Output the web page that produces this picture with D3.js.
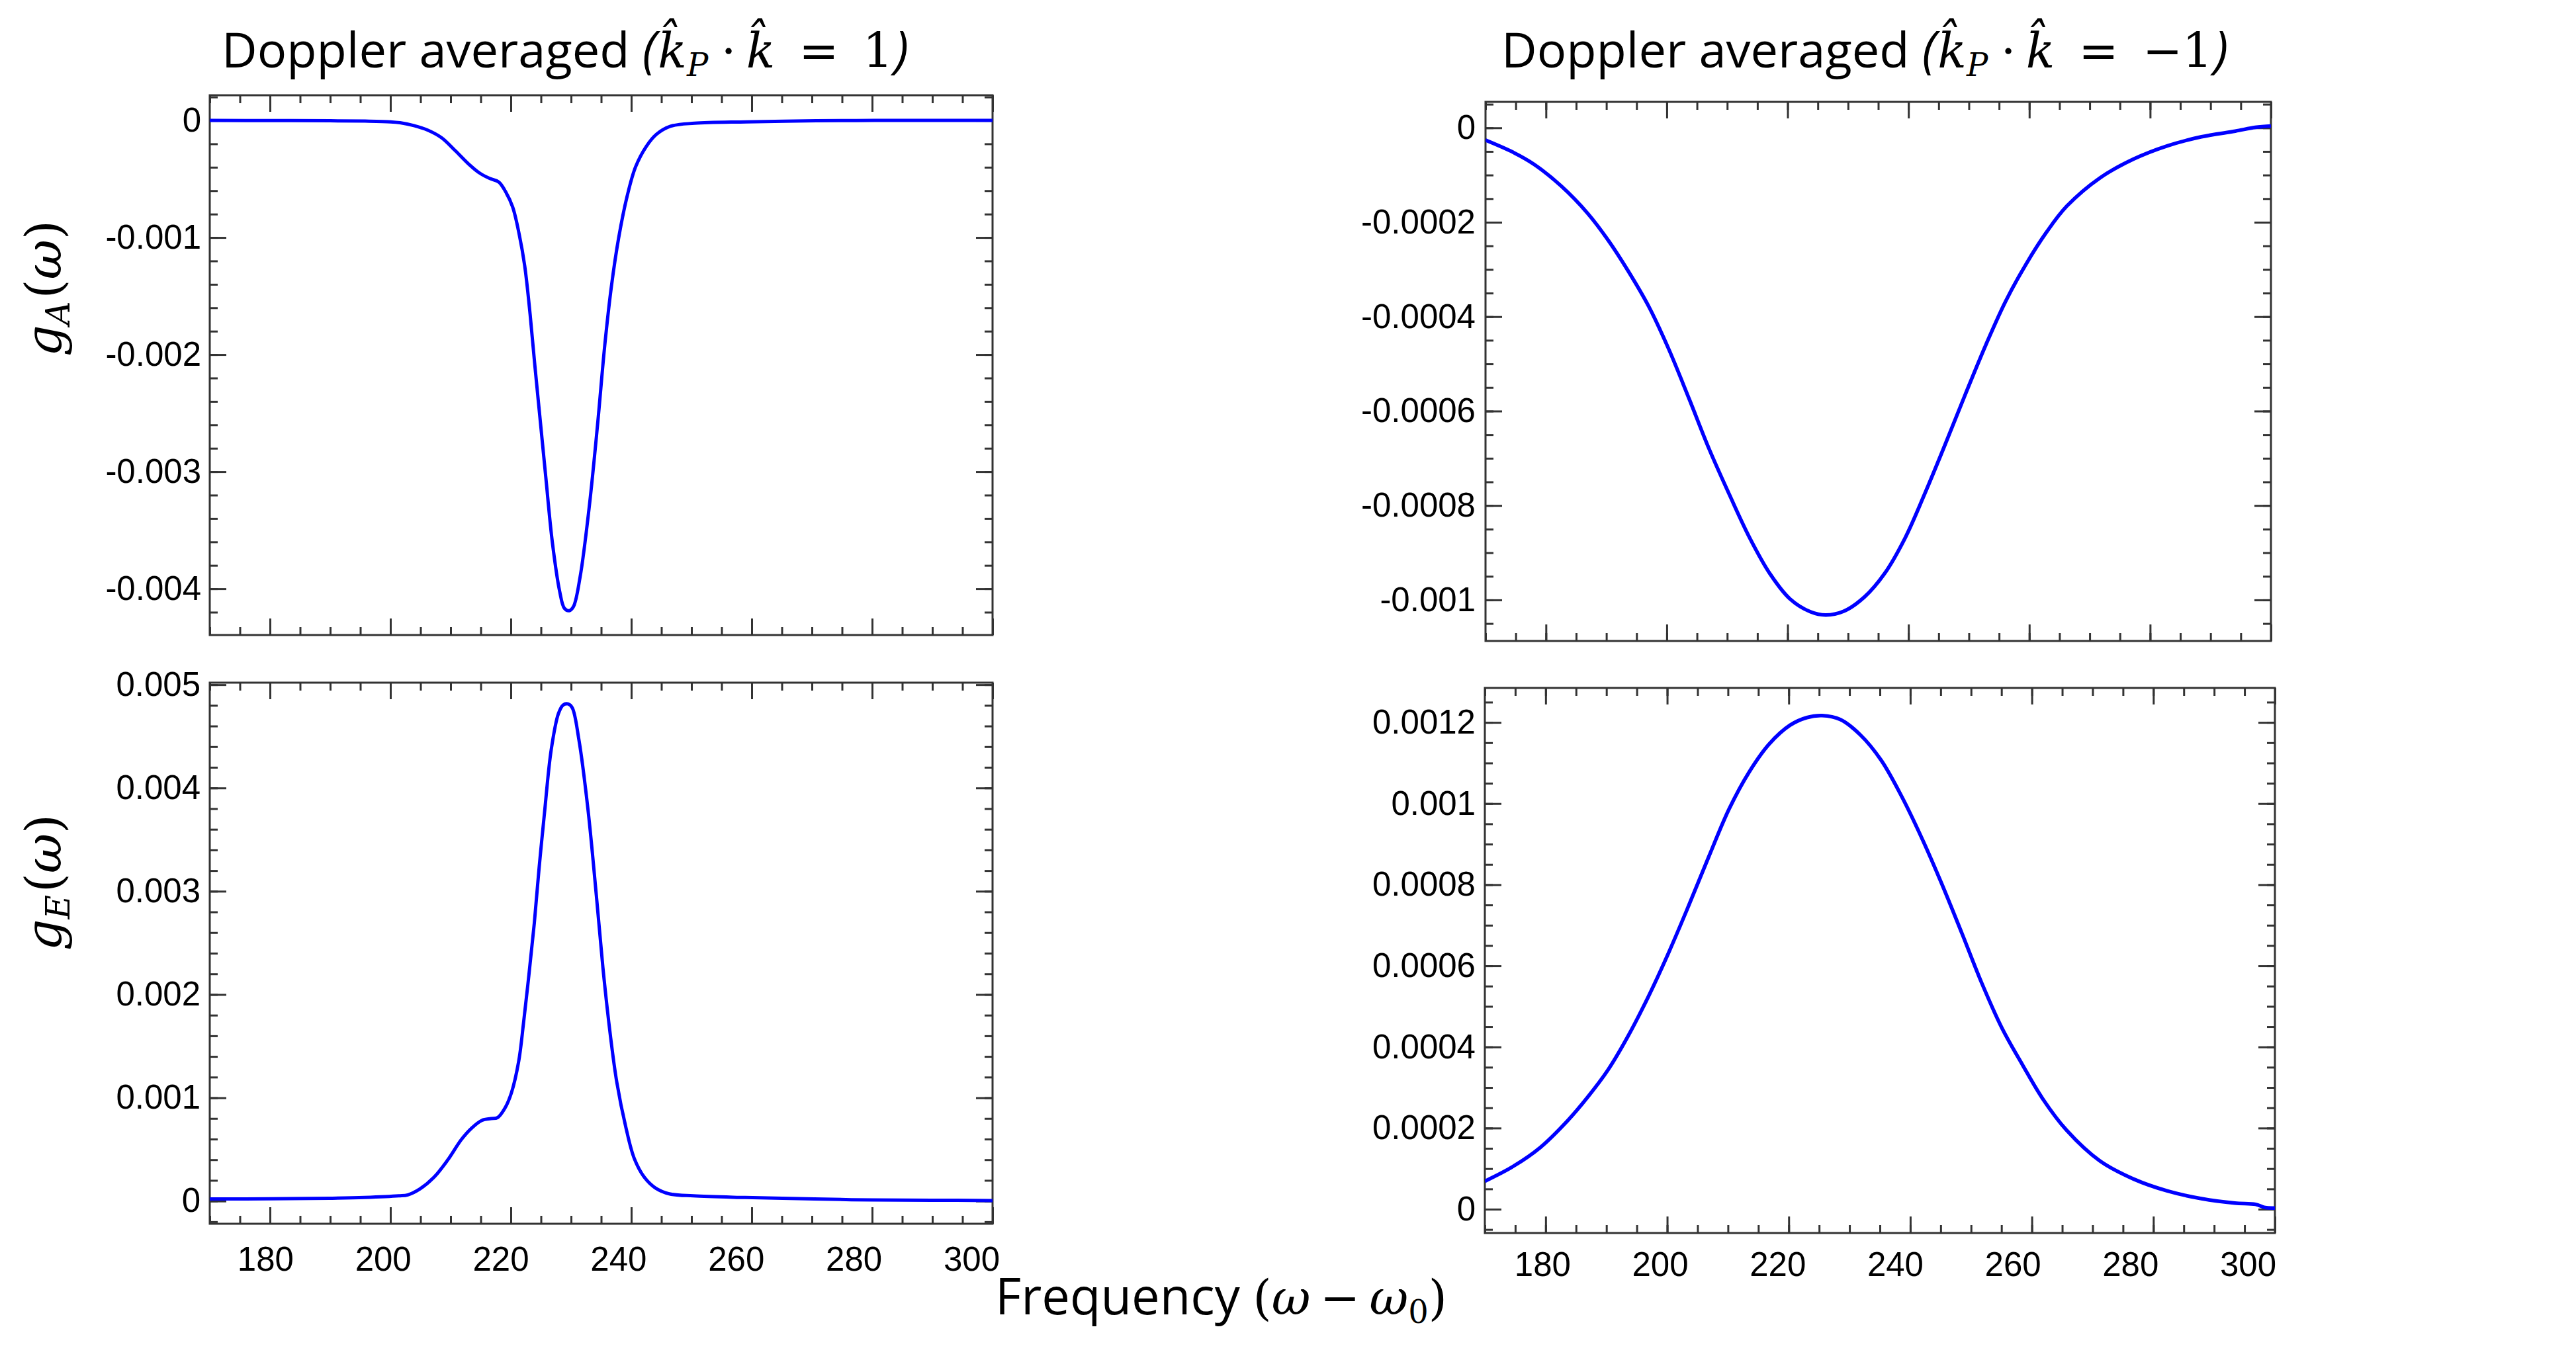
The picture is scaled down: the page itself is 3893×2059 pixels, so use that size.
<!DOCTYPE html>
<html><head><meta charset="utf-8">
<script src="https://cdn.jsdelivr.net/npm/d3@7"></script>
<style>body{margin:0;background:#fff}</style>
</head><body>
<svg id="chart" width="3893" height="2059" xmlns="http://www.w3.org/2000/svg"></svg>
<script>
// ---------------- DATA ----------------
const xTickLabels = [180, 200, 220, 240, 260, 280, 300];

// Doppler averaged, kP.k = 1 : g_A
const freqA1 = [170,180,190,195.8,200,201.6,203.9,206.2,208.5,210.8,213.1,214.8,216.5,218.0,219.1,220.3,221.4,222.3,223.2,224.0,224.9,225.8,226.9,228.1,228.9,229.7,230.4,231.5,233.0,234.4,235.6,236.7,237.9,239.3,240.7,242.5,244.2,246.5,250.5,259.2,270.7,280.4,290,300];
const gA1 = [0,-0.000001,-0.000003,-0.000006,-0.000012,-0.00002,-0.000044,-0.000083,-0.000148,-0.00026,-0.000378,-0.000449,-0.000496,-0.000526,-0.000606,-0.000739,-0.000975,-0.001241,-0.001655,-0.002098,-0.002571,-0.003044,-0.003605,-0.004019,-0.004167,-0.004187,-0.004152,-0.0039,-0.00331,-0.0026,-0.00192,-0.001418,-0.001005,-0.00065,-0.000399,-0.000222,-0.000118,-0.00005,-0.000024,-0.000012,-0.000003,0,0,0];

// Doppler averaged, kP.k = 1 : g_E
const freqE1 = [170,180,189.9,195.7,201.4,202.9,204.9,207.2,209.5,211.8,213.5,215.2,216.7,217.8,219.0,220.1,221.3,222.1,223.0,223.9,224.7,225.6,226.7,227.9,228.7,229.5,230.2,231.3,232.8,234.2,235.3,236.5,237.6,239.1,240.5,242.2,244.0,246.3,250.3,258.9,270.4,280.1,290,300];
const gE1 = [0.00002,0.000022,0.000027,0.000034,0.00005,0.00006,0.000117,0.000228,0.000396,0.000597,0.000707,0.000781,0.000798,0.000808,0.000898,0.001049,0.001351,0.00172,0.002189,0.002692,0.003228,0.003765,0.004368,0.00472,0.004804,0.004814,0.004777,0.004469,0.003798,0.00296,0.002256,0.001619,0.00115,0.000714,0.000412,0.000228,0.000127,0.00007,0.00005,0.000034,0.00002,0.00001,0.000008,0.000005];

// Doppler averaged, kP.k = -1 : g_A
const freqA2 = [170,174.6,178,182.5,186.9,190.3,193.6,197,200.3,203.7,207,210.4,213.7,217.1,220.4,223.75,226.3,229.3,232.7,236,239.4,242.7,246.1,249.4,252.8,256.1,259.5,262.8,266.2,271.7,277.3,282.9,288.5,294.1,297.4,300];
const gA2 = [-0.000026,-0.000052,-0.000077,-0.000123,-0.000181,-0.000238,-0.000303,-0.000378,-0.000468,-0.000574,-0.00068,-0.000778,-0.000868,-0.000945,-0.000998,-0.001025,-0.001032,-0.001024,-0.000994,-0.000945,-0.00087,-0.000775,-0.00067,-0.000565,-0.00046,-0.000367,-0.000288,-0.000222,-0.000166,-0.000106,-0.000066,-0.000038,-0.000019,-0.000007,0.000001,0.000004];

// Doppler averaged, kP.k = -1 : g_E
const freqE2 = [170,174.7,179.1,183.6,186.9,190.2,193.5,196.9,200.2,203.5,206.9,210.2,213.5,216.8,220.2,223,225.5,228.5,231.8,235.2,238.5,241.8,245.1,248.5,251.8,255.1,258.5,261.8,265.7,271.2,276.8,282.3,287.9,293.4,296.8,298.4,300];
const gE2 = [0.000069,0.000106,0.000152,0.000218,0.000276,0.000342,0.000425,0.000524,0.000631,0.000747,0.000871,0.000987,0.001078,0.001147,0.001193,0.001212,0.001217,0.001207,0.001169,0.001107,0.00102,0.000918,0.000805,0.00068,0.000556,0.000446,0.000355,0.000272,0.000195,0.000119,0.000074,0.000045,0.000026,0.000015,0.000012,0.000004,0.000003];

const yTicksA1 = [0, -0.001, -0.002, -0.003, -0.004];
const yTicksE1 = [0, 0.001, 0.002, 0.003, 0.004, 0.005];
const yTicksA2 = [0, -0.0002, -0.0004, -0.0006, -0.0008, -0.001];
const yTicksE2 = [0, 0.0002, 0.0004, 0.0006, 0.0008, 0.001, 0.0012];

// ---------------- LAYOUT ----------------
const svg = d3.select('#chart');
const LINE = '#0000ff', INK = '#333';
const TICKFONT = '"Liberation Sans", Arial, sans-serif';
const SANS = '"Open Sans", "Noto Sans", sans-serif';
const SERIF = '"DejaVu Serif", serif';

const panels = [
  {x0:317, x1:1500, y0:144, y1:960, yDom:[-0.004395, 0.000215], yTicks:yTicksA1, yMinor:0.0002, fx:freqA1, fy:gA1, xLabels:false, labPad:13, lw:5},
  {x0:317, x1:1500, y0:1032, y1:1850, yDom:[-0.00022, 0.00502], yTicks:yTicksE1, yMinor:0.0002, fx:freqE1, fy:gE1, xLabels:true, labPad:14, xPad:35, lab0:-19.6, labK:-0.207, lw:5},
  {x0:2245, x1:3432, y0:154, y1:969, yDom:[-0.001087, 0.000055], yTicks:yTicksA2, yMinor:0.00005, fx:freqA2, fy:gA2, xLabels:false, labPad:15, lw:5.5},
  {x0:2244, x1:3438, y0:1040, y1:1864, yDom:[-0.0000587, 0.001285], yTicks:yTicksE2, yMinor:0.00005, fx:freqE2, fy:gE2, xLabels:true, labPad:14, xPad:29, lab0:-23, labK:-0.30, lw:5.5}
];

function range(dom, step){
  const out=[]; const a=Math.ceil(dom[0]/step-1e-9), b=Math.floor(dom[1]/step+1e-9);
  for(let i=a;i<=b;i++) out.push(+(i*step).toPrecision(8));
  return out;
}

panels.forEach((p,i)=>{
  const x = d3.scaleLinear().domain([170,300]).range([p.x0,p.x1]);
  const y = d3.scaleLinear().domain(p.yDom).range([p.y1,p.y0]);
  const g = svg.append('g');
  const clipId = 'clip'+i;
  svg.append('clipPath').attr('id',clipId).append('rect')
     .attr('x',p.x0).attr('y',p.y0).attr('width',p.x1-p.x0).attr('height',p.y1-p.y0);

  const xMinor = range([170,300],5);
  const yMinor = range(p.yDom,p.yMinor);
  const MAJ=25, MIN=12;

  const mk = (axis, tr) => { const a=g.append('g').attr('transform',tr).call(axis); a.select('.domain').remove(); a.selectAll('line').attr('stroke',INK).attr('stroke-width',3); return a; };
  mk(d3.axisBottom(x).tickValues(xMinor).tickSize(-MIN).tickFormat(''), `translate(0,${p.y1})`);
  mk(d3.axisTop(x).tickValues(xMinor).tickSize(-MIN).tickFormat(''), `translate(0,${p.y0})`);
  mk(d3.axisLeft(y).tickValues(yMinor).tickSize(-MIN).tickFormat(''), `translate(${p.x0},0)`);
  mk(d3.axisRight(y).tickValues(yMinor).tickSize(-MIN).tickFormat(''), `translate(${p.x1},0)`);
  const xb = mk(d3.axisBottom(x).tickValues(xTickLabels).tickSize(-MAJ).tickPadding(p.xPad||10)
        .tickFormat(p.xLabels ? d=>String(d) : ''), `translate(0,${p.y1})`);
  mk(d3.axisTop(x).tickValues(xTickLabels).tickSize(-MAJ).tickFormat(''), `translate(0,${p.y0})`);
  const yl = mk(d3.axisLeft(y).tickValues(p.yTicks).tickSize(-MAJ).tickPadding(p.labPad).tickFormat(d=>String(d)), `translate(${p.x0},0)`);
  mk(d3.axisRight(y).tickValues(p.yTicks).tickSize(-MAJ).tickFormat(''), `translate(${p.x1},0)`);
  xb.selectAll('text').attr('font-family',TICKFONT).attr('font-size',51).attr('fill','#000')
    .attr('dx', d => p.xLabels ? (p.lab0 + p.labK*(d-240)) : 0);
  yl.selectAll('text').attr('font-family',TICKFONT).attr('font-size',51).attr('fill','#000');

  g.append('rect').attr('x',p.x0).attr('y',p.y0).attr('width',p.x1-p.x0).attr('height',p.y1-p.y0)
    .attr('fill','none').attr('stroke',INK).attr('stroke-width',3);

  const pts = p.fx.map((f,k)=>[f,p.fy[k]]);
  g.append('path').datum(pts).attr('clip-path',`url(#${clipId})`)
    .attr('fill','none').attr('stroke',LINE).attr('stroke-width',p.lw).attr('stroke-linejoin','round')
    .attr('d', d3.line().x(d=>x(d[0])).y(d=>y(d[1])).curve(d3.curveCatmullRom.alpha(0.5)));
});

// ---------------- TEXT ----------------
function rich(parent, x, y, pieces, anchor, transform){
  const t = parent.append('text').attr('x',x).attr('y',y).attr('text-anchor',anchor||'start').attr('fill','#000');
  if(transform) t.attr('transform',transform);
  pieces.forEach(pc=>{
    const s = t.append('tspan').text(pc.t).attr('font-family',pc.f).attr('font-size',pc.s);
    if(pc.i) s.attr('font-style','italic');
    if(pc.dy) s.attr('dy',pc.dy);
    if(pc.dx) s.attr('dx',pc.dx);
  });
  return t;
}
const KH = 'k\u0302';
function titlePieces(rhs){
  return [
    {t:'Doppler averaged ', f:SANS, s:74},
    {t:'(', f:SANS, s:76, i:true},
    {t:KH, f:SERIF, s:72, i:true, dx:2},
    {t:'P', f:SERIF, s:48, i:true, dy:13},
    {t:'\u2009\u22C5\u2009', f:SERIF, s:72, dy:-13, dx:4},
    {t:KH, f:SERIF, s:72, i:true},
    {t:'\u2002=\u2002'+rhs, f:SERIF, s:72},
    {t:')', f:SANS, s:76, i:true, dx:2}
  ];
}
rich(svg, 335, 102, titlePieces('1'));
rich(svg, 2269, 102, titlePieces('\u22121'));

function gPieces(sub){
  return [
    {t:'g', f:SERIF, s:74, i:true},
    {t:sub, f:SERIF, s:50, i:true, dy:13},
    {t:'(', f:SERIF, s:74, dy:-13, dx:4},
    {t:'\u03C9', f:SERIF, s:74, i:true},
    {t:')', f:SERIF, s:74}
  ];
}
rich(svg, 0, 0, gPieces('A'), 'middle', 'translate(92,436) rotate(-90)');
rich(svg, 0, 0, gPieces('E'), 'middle', 'translate(92,1334) rotate(-90)');

rich(svg, 1504, 1987, [
  {t:'Frequency ', f:SANS, s:76},
  {t:'(', f:SERIF, s:72},
  {t:'\u03C9', f:SERIF, s:72, i:true},
  {t:'\u2009\u2212\u2009', f:SERIF, s:72},
  {t:'\u03C9', f:SERIF, s:72, i:true},
  {t:'0', f:SERIF, s:48, dy:13},
  {t:')', f:SERIF, s:72, dy:-13}
]);
</script>
</body></html>
